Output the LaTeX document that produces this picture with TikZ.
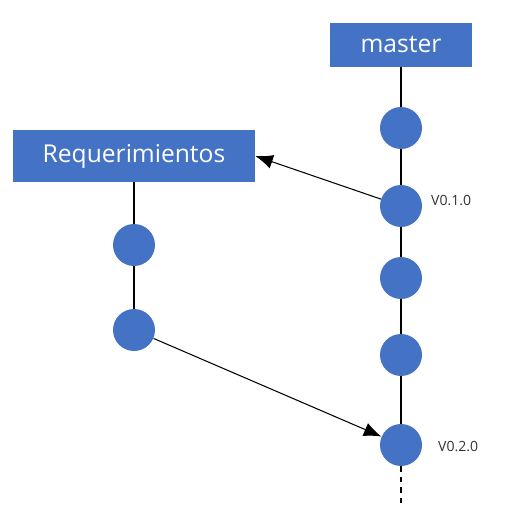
\documentclass[tikz,border=0pt]{standalone}
\usepackage{fontspec}
\setmainfont{Open Sans}
\usetikzlibrary{arrows.meta}
\definecolor{gitblue}{RGB}{68,114,196}
\tikzset{
    branch/.style={fill=gitblue, text=white, minimum height=0.88cm, inner sep=0pt, font=\fontsize{14}{16}\selectfont},
    commit/.style={circle, fill=gitblue, minimum size=0.84cm, inner sep=0pt},
    tag/.style={right, font=\fontsize{8}{10}\selectfont, text=black!80},
}
\begin{document}
\begin{tikzpicture}[x=0.02cm, y=-0.02cm]
    \useasboundingbox (0,0) rectangle (506,513);
    \node[branch, minimum width=2.84cm] (master) at (401,45) {master};
    \node[branch, minimum width=4.84cm, minimum height=1.04cm] (req) at (134,156) {Requerimientos};

    \node[commit] (m1) at (401,128) {}; \node[commit] (m2) at (401,206) {};
    \node[commit] (m3) at (401,278) {}; \node[commit] (m4) at (401,355) {};
    \node[commit] (m5) at (401,445) {};
    \node[commit] (l1) at (134,245) {}; \node[commit] (l2) at (134,330) {};
    \coordinate (tail) at (401,506);

    \draw[semithick] (master)--(m1)--(m2)--(m3)--(m4)--(m5);
    \draw[semithick, dashed] (m5)--(tail);
    \draw[semithick] (req)--(l1)--(l2);
    \draw[semithick, -{Latex[length=10pt,width=8pt]}] (m2)--(req.east);
    \draw[semithick, -{Latex[length=10pt,width=8pt]}] (l2)--(m5);

    \node[tag] (t1) at (425,201) {V0.1.0};
    \node[tag] (t2) at (432,446) {V0.2.0};
\end{tikzpicture}
\end{document}
